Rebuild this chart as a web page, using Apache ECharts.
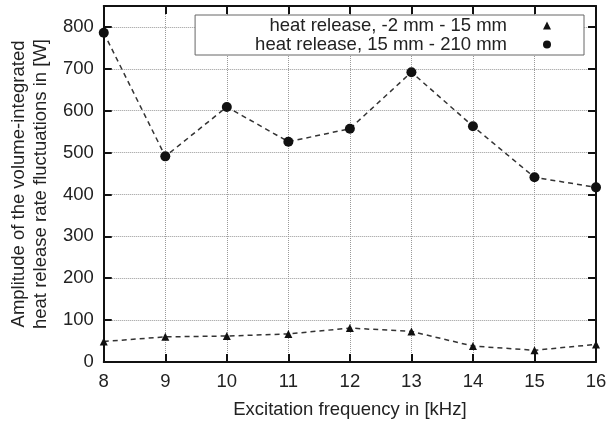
<!DOCTYPE html>
<html>
<head>
<meta charset="utf-8">
<script src="https://cdn.jsdelivr.net/npm/echarts@6/dist/echarts.min.js"></script>
<style>
html,body{margin:0;padding:0;background:#fff;}
#chart{width:610px;height:425px;}
</style>
</head>
<body>
<div id="chart"></div>
<script>
var frequencies = [8, 9, 10, 11, 12, 13, 14, 15, 16];
var heatReleaseNear = [49, 60, 62, 67, 81, 73, 38, 28, 42];
var heatReleaseFar = [786, 491, 609, 526, 557, 692, 563, 441, 417];
var seriesNames = ['heat release, -2 mm - 15 mm', 'heat release, 15 mm - 210 mm'];
var xTitle = 'Excitation frequency in [kHz]';
var yTitle = 'Amplitude of the volume-integrated\nheat release rate fluctuations in [W]';

function pairs(xs, ys) { return xs.map(function (x, i) { return [x, ys[i]]; }); }

var font = 'Liberation Sans, Arial, sans-serif';
var fs = 18.5;
var chart = echarts.init(document.getElementById('chart'), null, {renderer: 'canvas'});
var frameLine = {show: true, onZero: false, lineStyle: {color: '#111', width: 2}};
var innerTick = {show: true, inside: true, length: 8, lineStyle: {color: '#111', width: 2}};
var option = {
  animation: false,
  backgroundColor: '#fff',
  grid: {left: 97, right: 14, top: 6, bottom: 63, containLabel: false},
  legend: {
    orient: 'vertical',
    right: 26,
    top: 15,
    align: 'right',
    backgroundColor: '#fff',
    borderColor: '#666',
    borderWidth: 1,
    borderRadius: 0,
    padding: [1, 33, 1, 60],
    itemGap: 0,
    itemWidth: 8,
    itemHeight: 8,
    textStyle: {fontFamily: font, fontSize: fs, color: '#222', padding: [0, 31, 0, 0], lineHeight: 18},
    data: [
      {name: seriesNames[0], icon: 'triangle'},
      {name: seriesNames[1], icon: 'circle'}
    ]
  },
  xAxis: [{
    type: 'value', min: 8, max: 16, interval: 1,
    name: xTitle, nameLocation: 'middle', nameGap: 38,
    nameTextStyle: {fontFamily: font, fontSize: fs, color: '#222'},
    axisLine: frameLine, axisTick: innerTick,
    axisLabel: {fontFamily: font, fontSize: fs, color: '#222', margin: 10},
    splitLine: {show: true, lineStyle: {color: '#999', type: 'dotted', width: 1}}
  }, {
    type: 'value', min: 8, max: 16, interval: 1, position: 'top',
    axisLine: frameLine, axisTick: innerTick, axisLabel: {show: false}, splitLine: {show: false}
  }],
  yAxis: [{
    type: 'value', min: 0, max: 850, interval: 100,
    name: yTitle, nameLocation: 'middle', nameGap: 50,
    nameTextStyle: {fontFamily: font, fontSize: fs, color: '#222', lineHeight: 22},
    axisLine: frameLine, axisTick: innerTick,
    axisLabel: {fontFamily: font, fontSize: fs, color: '#222', margin: 10, showMaxLabel: false,
      formatter: function (v) { return v % 100 === 0 ? String(v) : ''; }},
    splitLine: {show: true, lineStyle: {color: '#999', type: 'dotted', width: 1}}
  }, {
    type: 'value', min: 0, max: 850, interval: 100, position: 'right',
    axisLine: frameLine, axisTick: innerTick, axisLabel: {show: false}, splitLine: {show: false}
  }],
  series: [{
    name: seriesNames[0], type: 'line',
    data: pairs(frequencies, heatReleaseNear),
    symbol: 'triangle', symbolSize: 8,
    itemStyle: {color: '#111'},
    lineStyle: {color: '#333', width: 1.5, type: [5, 4]}
  }, {
    name: seriesNames[1], type: 'line',
    data: pairs(frequencies, heatReleaseFar),
    symbol: 'circle', symbolSize: 10,
    itemStyle: {color: '#111'},
    lineStyle: {color: '#333', width: 1.5, type: [5, 4]}
  }]
};
chart.setOption(option);
</script>
</body>
</html>
